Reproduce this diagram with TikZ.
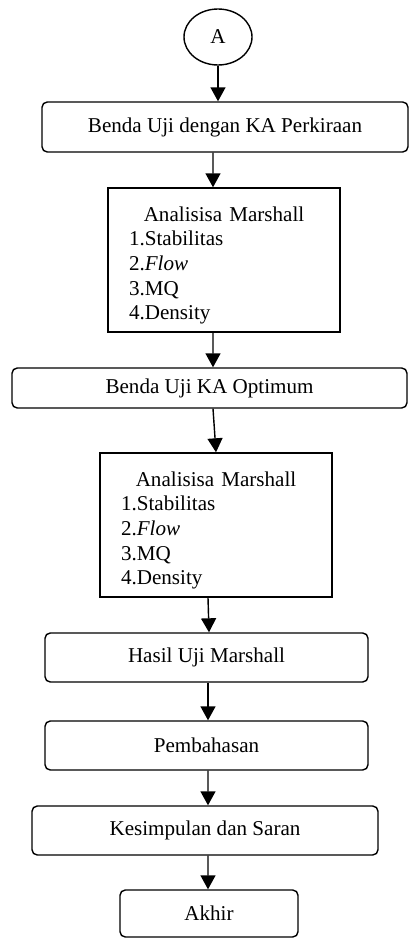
\documentclass[tikz,border=0pt]{standalone}
\usepackage{fontspec}
\setmainfont{Liberation Serif}
\usetikzlibrary{arrows.meta,shapes.geometric}
\tikzset{
  >={Triangle[length=2.8mm,width=3mm]},
  txt/.style={font=\fontsize{12pt}{14pt}\selectfont},
  conn/.style={ellipse,draw,line width=0.8pt,txt,minimum width=13.6mm,minimum height=11.2mm,inner sep=0pt},
  rbox/.style={draw,rounded corners=3pt,line width=0.8pt,txt,minimum height=#1,inner sep=0pt,align=center},
  rbox/.default=9.8mm,
  list box/.style={draw,line width=0.8pt,txt,minimum width=46.4mm,minimum height=28.8mm,
    inner xsep=4.2mm,inner ysep=0pt,text width=38mm,align=left},
  flow/.style={->,line width=0.8pt},
}
\newcommand{\marshall}{{\centering\rule{0pt}{5.1mm}Analisisa Marshall\par}1.Stabilitas\\2.\textit{Flow}\\3.MQ\\4.Density}

\begin{document}
\begin{tikzpicture}
  \useasboundingbox (0,0) rectangle (8.18,-18.76);
  \node[conn] (a) at (4.36,-0.74) {A};
  \node[rbox=10mm,minimum width=73.2mm] (b1) at (4.50,-2.54) {Benda Uji dengan KA Perkiraan};
  \node[list box] (b2) at (4.48,-5.20) {\marshall};
  \node[rbox=8mm,minimum width=79mm] (b3) at (4.19,-7.76) {Benda Uji KA Optimum};
  \node[list box] (b4) at (4.32,-10.50) {\marshall};
  \node[rbox,minimum width=64.6mm] (b5) at (4.13,-13.15) {Hasil Uji Marshall};
  \node[rbox,minimum width=64.6mm] (b6) at (4.13,-14.91) {Pembahasan};
  \node[rbox,minimum width=69.2mm] (b7) at (4.10,-16.61) {Kesimpulan dan Saran};
  \node[rbox=9.4mm,minimum width=35.6mm] (b8) at (4.18,-18.27) {Akhir};
  % arrows
  \draw[flow] (a) -- (a |- b1.north);
  \foreach \a/\b/\s/\t in {b1/b2/-2.4mm/-2.2mm,b2/b3/-2.2mm/0.7mm,b3/b4/0.7mm/0mm,b4/b5/-1.6mm/0.5mm,
    b5/b6/0.3mm/0.3mm,b6/b7/0.3mm/0.6mm,b7/b8/0.6mm/-0.2mm}
    \draw[flow] ([xshift=\s]\a.south) -- ([xshift=\t]\b.north);
\end{tikzpicture}
\end{document}
